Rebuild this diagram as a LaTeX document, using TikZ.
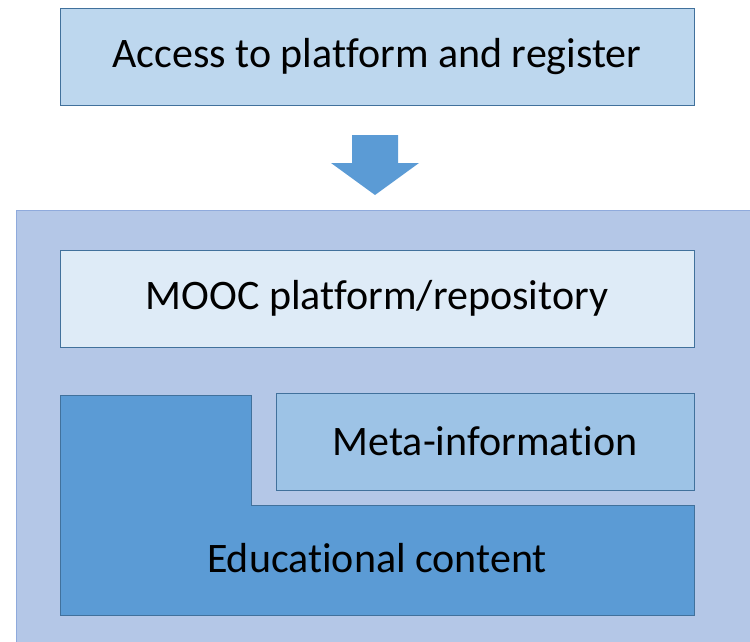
\documentclass[tikz,border=0pt]{standalone}
\usepackage{fontspec}
\setmainfont{Carlito}[Ligatures=NoCommon]
\usetikzlibrary{positioning}

\definecolor{edgeblue}{HTML}{41719C}
\definecolor{topfill}{HTML}{BDD7EE}
\definecolor{outerfill}{HTML}{B4C7E7}
\definecolor{outeredge}{HTML}{8FAADC}
\definecolor{moocfill}{HTML}{DEEBF7}
\definecolor{metafill}{HTML}{9DC3E6}
\definecolor{contentfill}{HTML}{5B9BD5}

\begin{document}
\begin{tikzpicture}[x=1pt,y=-1pt,
    box/.style={draw=edgeblue,line width=1pt,inner sep=0pt,font=\fontsize{42}{46}\selectfont},
    bigarrow/.style={fill=contentfill,draw=none}]
  \useasboundingbox (0,0) rectangle (750,642);

  % outer frame
  \fill[outerfill,draw=outeredge,line width=1pt] (16,210) rectangle (754,646);

  \node[box,fill=topfill,minimum width=634pt,minimum height=96pt] (access) at (377,57) {Access to platform and register};
  \node[box,fill=moocfill,minimum width=634pt,minimum height=97pt] (mooc) at (377,298.5) {MOOC platform/repository};
  \node[box,fill=metafill,minimum width=418pt,minimum height=97pt] (meta) at (485,441.5) {Meta-information};

  % L-shaped content block
  \draw[fill=contentfill,draw=edgeblue,line width=1pt]
    (60,395) -- (251,395) -- (251,505) -- (694,505) -- (694,615) -- (60,615) -- cycle;
  \node[font=\fontsize{42}{46}\selectfont] (content) at (377,558) {Educational content};

  % down arrow
  \coordinate (a) at (375,135);
  \fill[bigarrow] ([xshift=-23pt]a) -- ([xshift=23pt]a) -- ([xshift=23pt,yshift=-28pt]a)
    -- ([xshift=44pt,yshift=-28pt]a) -- ([yshift=-60pt]a) -- ([xshift=-44pt,yshift=-28pt]a)
    -- ([xshift=-23pt,yshift=-28pt]a) -- cycle;
\end{tikzpicture}
\end{document}
